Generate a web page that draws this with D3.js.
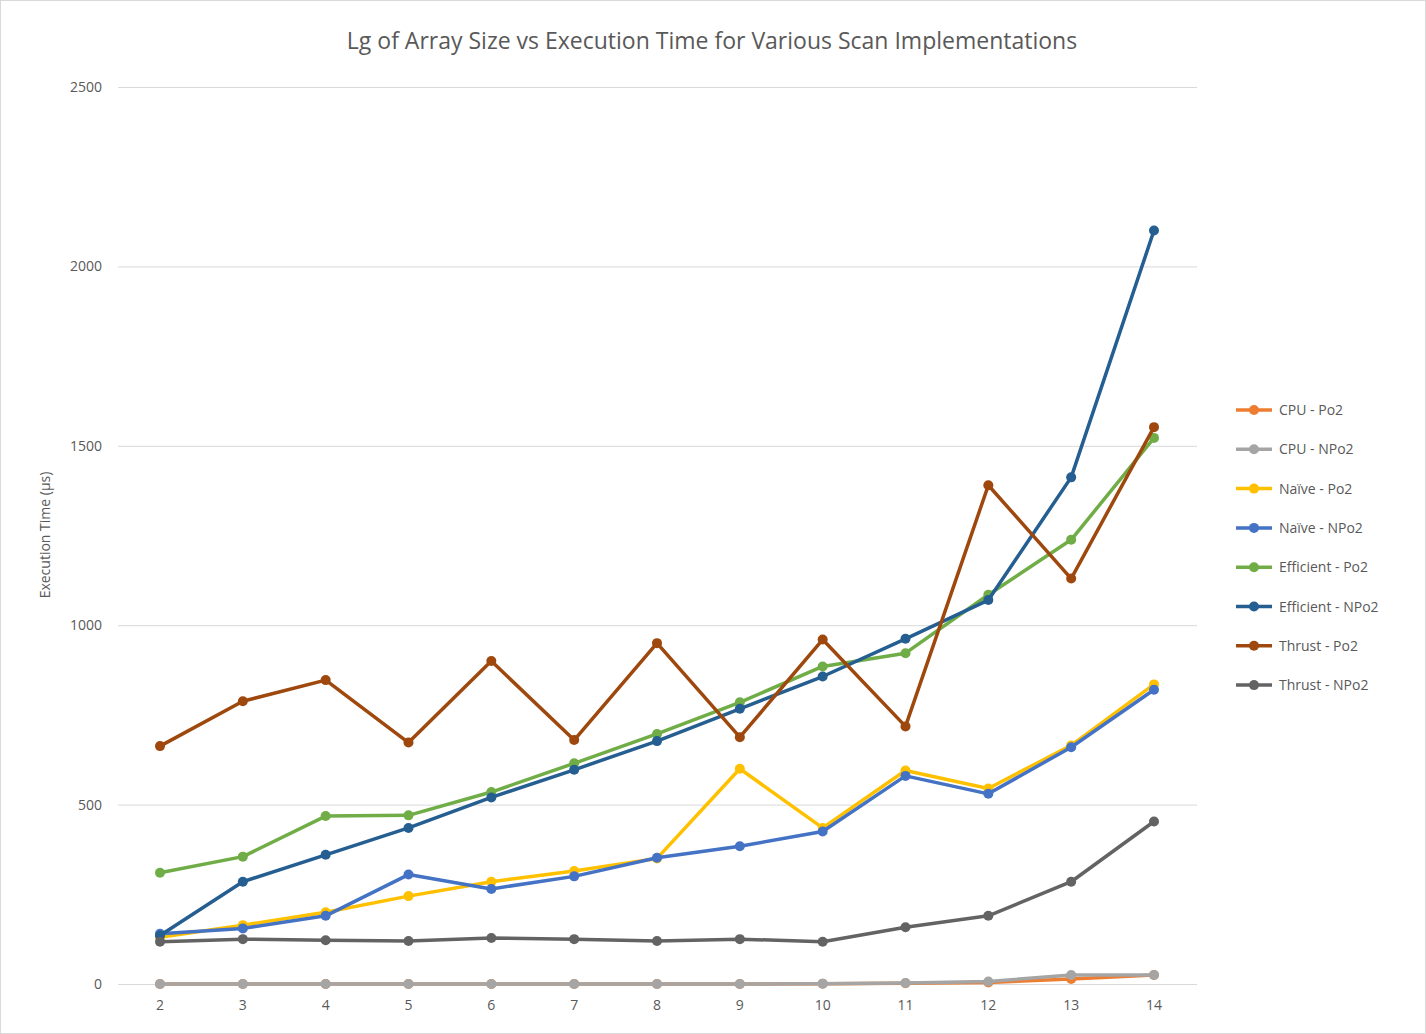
<!DOCTYPE html>
<html><head><meta charset="utf-8">
<script src="https://cdn.jsdelivr.net/npm/d3@7"></script>
<style>body{margin:0;background:#fff}text{font-family:"Open Sans",sans-serif}</style>
</head><body><div id="chart"></div>
<script>
var lgSizes = [2,3,4,5,6,7,8,9,10,11,12,13,14];
var seriesNames = ['CPU - Po2','CPU - NPo2','Naïve - Po2','Naïve - NPo2','Efficient - Po2','Efficient - NPo2','Thrust - Po2','Thrust - NPo2'];
var colors = ['#ED7D31','#A5A5A5','#FFC000','#4472C4','#70AD47','#255E91','#9E480E','#636363'];
var cpuPo2 = [0,0,0,0,0,0,0,0,1,2,4,14,25];
var cpuNPo2 = [0,0,0,0,0,0,0,0,1,3,7,25,25];
var naivePo2 = [130,164,200,245,285,315,350,600,435,595,545,665,835];
var naiveNPo2 = [140,155,190,305,265,300,352,384,425,580,530,660,820];
var effPo2 = [310,355,468,470,535,615,697,785,885,922,1085,1238,1522];
var effNPo2 = [135,285,360,435,520,597,677,767,857,962,1070,1412,2100];
var thrustPo2 = [663,788,847,673,900,680,950,688,960,718,1390,1130,1552];
var thrustNPo2 = [118,125,122,120,128,125,120,125,118,158,190,285,453];
var yTicks = [0,500,1000,1500,2000,2500];
var allSeries = [cpuPo2,cpuNPo2,naivePo2,naiveNPo2,effPo2,effNPo2,thrustPo2,thrustNPo2];

var W = 1426, H = 1034;
var svg = d3.select('#chart').append('svg').attr('width', W).attr('height', H);
svg.append('rect').attr('x',0.5).attr('y',0.5).attr('width',W-1).attr('height',H-1)
	.attr('fill','#fff').attr('stroke','#d9d9d9');

var x = d3.scalePoint().domain(lgSizes).range([160,1154]);
var y = d3.scaleLinear().domain([0,2500]).range([984,87]);

svg.append('g').selectAll('line').data(yTicks).enter().append('line')
	.attr('x1',118).attr('x2',1197)
	.attr('y1',function(d){return y(d)+0.5;}).attr('y2',function(d){return y(d)+0.5;})
	.attr('stroke','#d9d9d9');
svg.append('g').selectAll('text').data(yTicks).enter().append('text')
	.attr('x',102).attr('y',function(d){return y(d)+5;})
	.attr('text-anchor','end').attr('font-size',14).attr('fill','#595959')
	.text(function(d){return d;});
svg.append('g').selectAll('text').data(lgSizes).enter().append('text')
	.attr('x',function(d){return x(d);}).attr('y',1010)
	.attr('text-anchor','middle').attr('font-size',14).attr('fill','#595959')
	.text(function(d){return d;});

svg.append('text').attr('x',712).attr('y',49).attr('text-anchor','middle')
	.attr('font-size',23).attr('fill','#595959')
	.text('Lg of Array Size vs Execution Time for Various Scan Implementations');
svg.append('text').attr('transform','translate(50,535) rotate(-90)')
	.attr('text-anchor','middle').attr('font-size',14).attr('fill','#595959')
	.text('Execution Time (µs)');

var line = d3.line().x(function(d,i){return x(lgSizes[i]);}).y(function(d){return y(d);});
allSeries.forEach(function(s,k){
	var g = svg.append('g');
	g.append('path').datum(s).attr('d',line).attr('fill','none')
		.attr('stroke',colors[k]).attr('stroke-width',3.5).attr('stroke-linejoin','round');
	g.selectAll('circle').data(s).enter().append('circle')
		.attr('cx',function(d,i){return x(lgSizes[i]);}).attr('cy',function(d){return y(d);})
		.attr('r',5).attr('fill',colors[k]);
});

var leg = svg.append('g').selectAll('g').data(seriesNames).enter().append('g')
	.attr('transform',function(d,i){return 'translate(1236,'+(410+i*39.3)+')';});
leg.append('line').attr('x1',0).attr('x2',36).attr('stroke',function(d,i){return colors[i];}).attr('stroke-width',3.5);
leg.append('circle').attr('cx',18).attr('r',5).attr('fill',function(d,i){return colors[i];});
leg.append('text').attr('x',43).attr('y',5).attr('font-size',14).attr('fill','#595959').text(function(d){return d;});
</script></body></html>
